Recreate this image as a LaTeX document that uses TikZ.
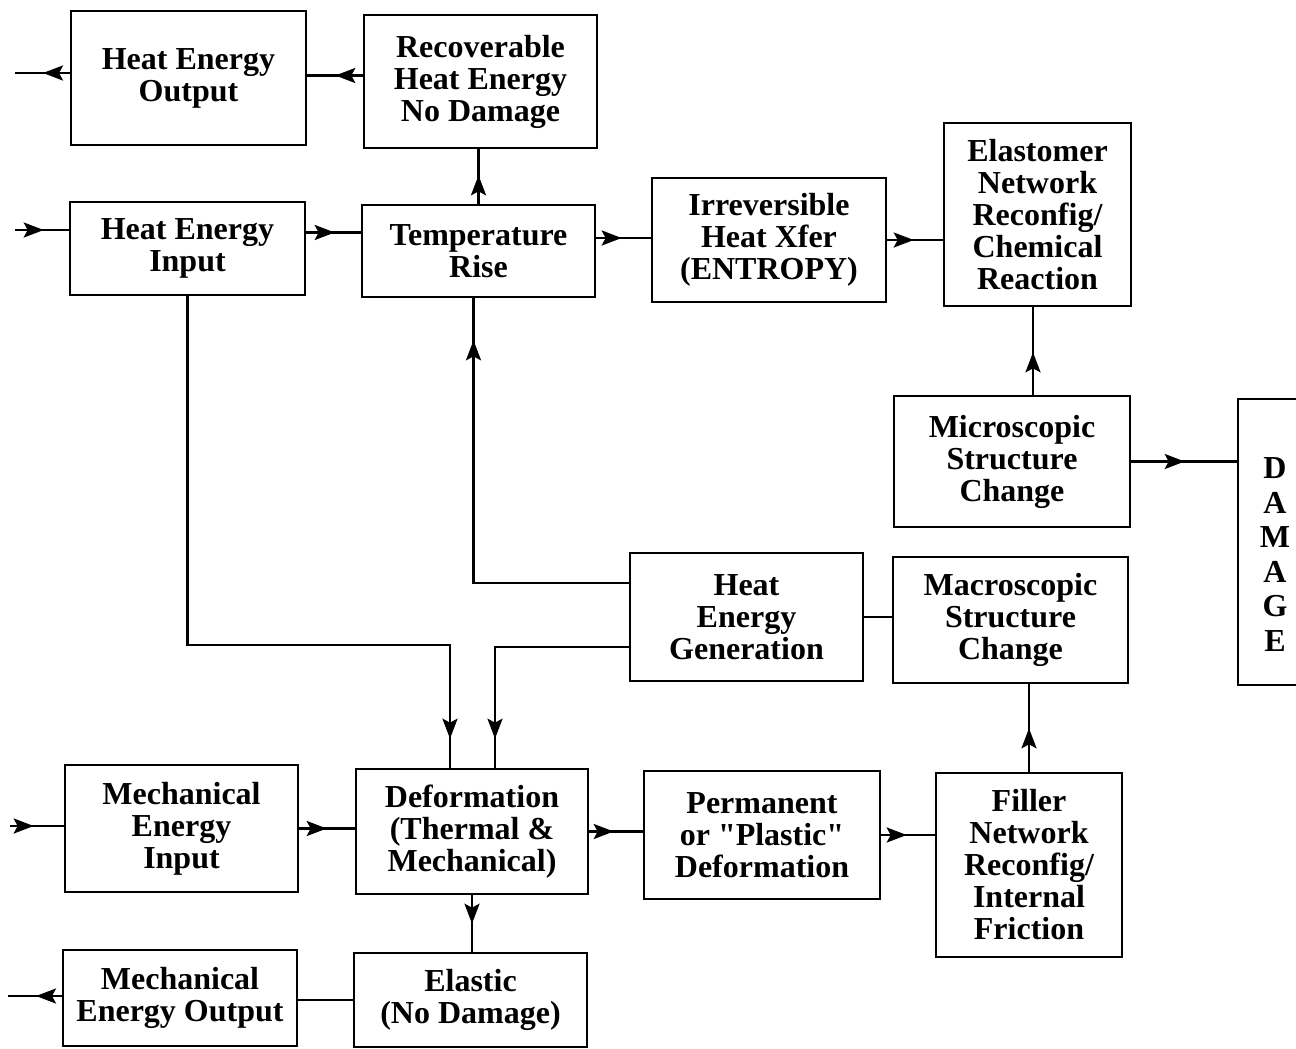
\documentclass[tikz,border=0pt]{standalone}
\usepackage{fontspec}
\setmainfont{Liberation Serif}
\usepackage{tikz}
\usetikzlibrary{positioning,arrows.meta,decorations.markings}

\begin{document}
\begin{tikzpicture}[x=0.5pt, y=-0.5pt, line width=1.3pt,
    block/.style={draw, rectangle, line width=1.3pt, align=center, inner sep=2pt,
      font=\bfseries\fontsize{16pt}{16pt}\selectfont},
    arrowat/.style={postaction={decorate}, decoration={markings,
      mark=at position #1 with {\arrow{Stealth[length=10pt,width=7.5pt,inset=2pt]}}}}]
  \useasboundingbox (0,0) rectangle (1296,1049);
  % top rows
  \node[block, minimum width=117.5pt, minimum height=67pt] (heo) at (188.5,78) {Heat Energy\\Output};
  \node[block, minimum width=116.5pt, minimum height=66.5pt] (rec) at (480.5,81.5) {Recoverable\\Heat Energy\\No Damage};
  \node[block, minimum width=117.5pt, minimum height=46.5pt] (hei) at (187.5,248.5) {Heat Energy\\Input};
  \node[block, minimum width=116.5pt, minimum height=46pt] (tr) at (478.5,251) {Temperature\\Rise};
  \node[block, minimum width=117pt, minimum height=62pt] (irr) at (769,240) {Irreversible\\Heat Xfer\\(ENTROPY)};
  \node[block, minimum width=93.5pt, minimum height=91.5pt] (ela) at (1037.5,214.5) {Elastomer\\Network\\Reconfig/\\Chemical\\Reaction};
  % middle
  \node[block, minimum width=118pt, minimum height=65.5pt] (mic) at (1012,461.5) {Microscopic\\Structure\\Change};
  \node[block, minimum width=37pt, minimum height=143pt,
    font=\bfseries\fontsize{16pt}{17.3pt}\selectfont] (dmg) at (1275,542)
    {\raisebox{-8pt}[\height][\depth]{\begin{tabular}{@{}c@{}}D\\A\\M\\A\\G\\E\end{tabular}}};
  \node[block, minimum width=116.5pt, minimum height=64pt] (hg) at (746.5,617) {Heat\\Energy\\Generation};
  \node[block, minimum width=117.5pt, minimum height=63pt] (mac) at (1010.5,620) {Macroscopic\\Structure\\Change};
  % bottom rows
  \node[block, minimum width=116.5pt, minimum height=63.5pt] (mei) at (181.5,828.5) {Mechanical\\Energy\\Input};
  \node[block, minimum width=116pt, minimum height=62.5pt] (def) at (472,831.5) {Deformation\\(Thermal \&\\Mechanical)};
  \node[block, minimum width=118pt, minimum height=64pt] (perm) at (762,835) {Permanent\\or \textquotedbl Plastic\textquotedbl\\Deformation};
  \node[block, minimum width=93pt, minimum height=92pt] (fil) at (1029,865) {Filler\\Network\\Reconfig/\\Internal\\Friction};
  \node[block, minimum width=117pt, minimum height=48pt] (meo) at (180,998) {Mechanical\\Energy Output};
  \node[block, minimum width=116.5pt, minimum height=47pt] (elc) at (470.5,1000) {Elastic\\(No Damage)};

  \coordinate (heoout) at (15,73);
  \coordinate (heiin) at (15,230);
  \coordinate (meiin) at (10,826);
  \coordinate (meoout) at (8,996);
  \coordinate (hbend) at (450,645);

  % heat side
  \draw[arrowat=-14pt] ([yshift=2.5pt]heo.west) -- (heoout);
  \draw[arrowat=-14pt] ([yshift=3pt]rec.west) -- ([yshift=3pt]rec.west -| heo.east);
  \draw[arrowat=-12.5pt] (heiin) -- (heiin -| hei.west);
  \draw[arrowat=-13pt] ([yshift=8pt]hei.east) -- ([yshift=8pt]hei.east -| tr.west);
  \draw[arrowat=-14.5pt] ([yshift=6.5pt]tr.east) -- ([yshift=6.5pt]tr.east -| irr.west);
  \draw[arrowat=-14.5pt] (irr.east) -- (irr.east -| ela.west);
  \draw[arrowat=-13pt] (tr.north) -- (tr.north |- rec.south);
  \draw[arrowat=-21pt] ([yshift=17pt]hg.west) -| ([xshift=-2.5pt]tr.south);
  \draw[arrowat=-14.5pt] (hei.south) |- (hbend) -- (hbend |- def.north);
  \draw[arrowat=-14.5pt] ([yshift=-15pt]hg.west) -| ([xshift=11.5pt]def.north);
  \draw (hg.east) -- (hg.east -| mac.west);
  \draw[arrowat=-22pt] (fil.north) -- (fil.north |- mac.south);
  \draw[arrowat=-22.5pt] ([xshift=10.5pt]mic.north) -- ([xshift=10.5pt]mic.north |- ela.south);
  \draw[arrowat=-26pt] (mic.east) -- (mic.east -| dmg.west);
  % mechanical side
  \draw[arrowat=-15pt] (meiin) -- (meiin -| mei.west);
  \draw[arrowat=-14pt] (mei.east) -- (mei.east -| def.west);
  \draw[arrowat=-14.5pt] (def.east) -- (def.east -| perm.west);
  \draw[arrowat=-14pt] (perm.east) -- (perm.east -| fil.west);
  \draw[arrowat=-14pt] (def.south) -- (def.south |- elc.north);
  \draw (elc.west) -- (elc.west -| meo.east);
  \draw[arrowat=-14pt] ([yshift=1pt]meo.west) -- (meoout);
\end{tikzpicture}
\end{document}
